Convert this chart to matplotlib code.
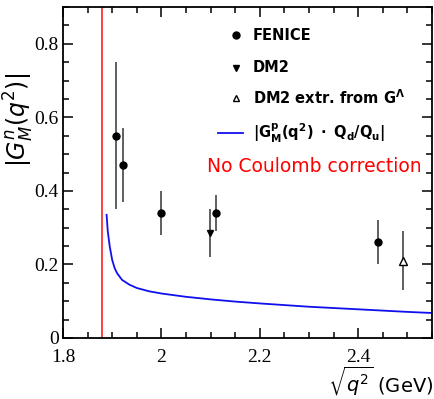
#!/usr/bin/env python3

import matplotlib
matplotlib.use('Agg')
import matplotlib.pyplot as plt
from matplotlib.ticker import MultipleLocator

# FENICE points
fen_x = [1.9075, 1.921, 2.0, 2.11, 2.44]
fen_y = [0.55, 0.47, 0.34, 0.34, 0.26]
fen_err = [0.20, 0.10, 0.06, 0.05, 0.06]

# DM2
dm2_x = [2.098]
dm2_y = [0.285]
dm2_err = [0.065]

# DM2 extracted from G^Lambda
dm2e_x = [2.492]
dm2e_y = [0.21]
dm2e_err = [0.08]

# |G_M^p * Qd/Qu| curve
curve_x = [1.8886, 1.891, 1.895, 1.90, 1.905, 1.91, 1.92, 1.935, 1.95, 1.975,
           2.0, 2.05, 2.1, 2.15, 2.2, 2.3, 2.4, 2.5, 2.55]
curve_y = [0.335, 0.29, 0.249, 0.212, 0.19, 0.176, 0.158, 0.145, 0.136, 0.127,
           0.121, 0.112, 0.105, 0.099, 0.094, 0.085, 0.078, 0.071, 0.068]

threshold = 1.8787

fig = plt.figure(figsize=(4.35, 3.99), dpi=100)
ax = fig.add_axes([63/435, 1 - 338/399, 369/435, 331/399])

ax.axvline(threshold, color='#ff3333', lw=1.3)
ax.plot(curve_x, curve_y, color='#1010ee', lw=1.3)

ax.errorbar(fen_x, fen_y, yerr=fen_err, fmt='o', color='black', ecolor='#444444',
            ms=5, elinewidth=1.2, capsize=0)
ax.errorbar(dm2_x, dm2_y, yerr=dm2_err, fmt='v', color='black', ecolor='#444444',
            ms=5, elinewidth=1.2, capsize=0)
ax.errorbar(dm2e_x, dm2e_y, yerr=dm2e_err, fmt='^', mfc='white', mec='black',
            ecolor='#444444', ms=5.5, elinewidth=1.2, capsize=0)

ax.set_xlim(1.8, 2.55)
ax.set_ylim(0, 0.9)
ax.xaxis.set_minor_locator(MultipleLocator(0.05))
ax.yaxis.set_minor_locator(MultipleLocator(0.05))
ax.tick_params(which='both', direction='in', top=True, right=True, width=1.1)
ax.tick_params(which='major', length=7)
ax.tick_params(which='minor', length=4)
for s in ax.spines.values():
    s.set_linewidth(1.3)

ax.set_xticks([1.8, 2.0, 2.2, 2.4])
ax.set_xticklabels(['1.8', '2', '2.2', '2.4'], family='Liberation Serif', fontsize=14)
ax.set_yticks([0, 0.2, 0.4, 0.6, 0.8])
ax.set_yticklabels(['0', '0.2', '0.4', '0.6', '0.8'], family='Liberation Serif', fontsize=14)
ax.tick_params(axis='x', pad=8)
ax.tick_params(axis='y', pad=3)

plt.rcParams['mathtext.fontset'] = 'dejavusans'
fig.text(0.995, 0.002, r'$\sqrt{q^2}$ (GeV)', ha='right', va='bottom', fontsize=14)
fig.text(0.043, 0.70, r'$|G_M^n(q^2)|$', rotation=90, ha='center', va='center', fontsize=17)

# legend, drawn by hand in axes coords
lx, tx = 236, 253
rows = [35, 68, 98, 133]
def ax_pt(px, py):
    return ((px - 63) / 369, (338 - py) / 331)
mk = [('o', 'black'), ('v', 'black'), ('^', 'white')]
labels = ['FENICE', 'DM2', r'DM2 extr. from G$^{\mathbf{\Lambda}}$',
          r'$\mathbf{|G^p_M(q^2)\ \cdot\ Q_d/Q_u|}$']
for i, lab in enumerate(labels):
    xm, ym = ax_pt(lx, rows[i])
    xt, _ = ax_pt(tx, rows[i])
    if i < 3:
        ax.plot([xm], [ym], marker=mk[i][0], mfc=mk[i][1], mec='black', ms=5,
                transform=ax.transAxes, ls='none')
    else:
        x0, _ = ax_pt(218, rows[i])
        x1, _ = ax_pt(243, rows[i])
        ax.plot([x0, x1], [ym, ym], color='#1010ee', lw=1.3, transform=ax.transAxes)
    ax.text(xt, ym, lab, transform=ax.transAxes, fontsize=10.5, fontweight='bold',
            va='center', ha='left')

xr, yr = ax_pt(207, 167)
ax.text(xr, yr, 'No Coulomb correction', transform=ax.transAxes, color='red',
        fontsize=13.5, va='center', ha='left')

plt.savefig('out.png', dpi=100)
